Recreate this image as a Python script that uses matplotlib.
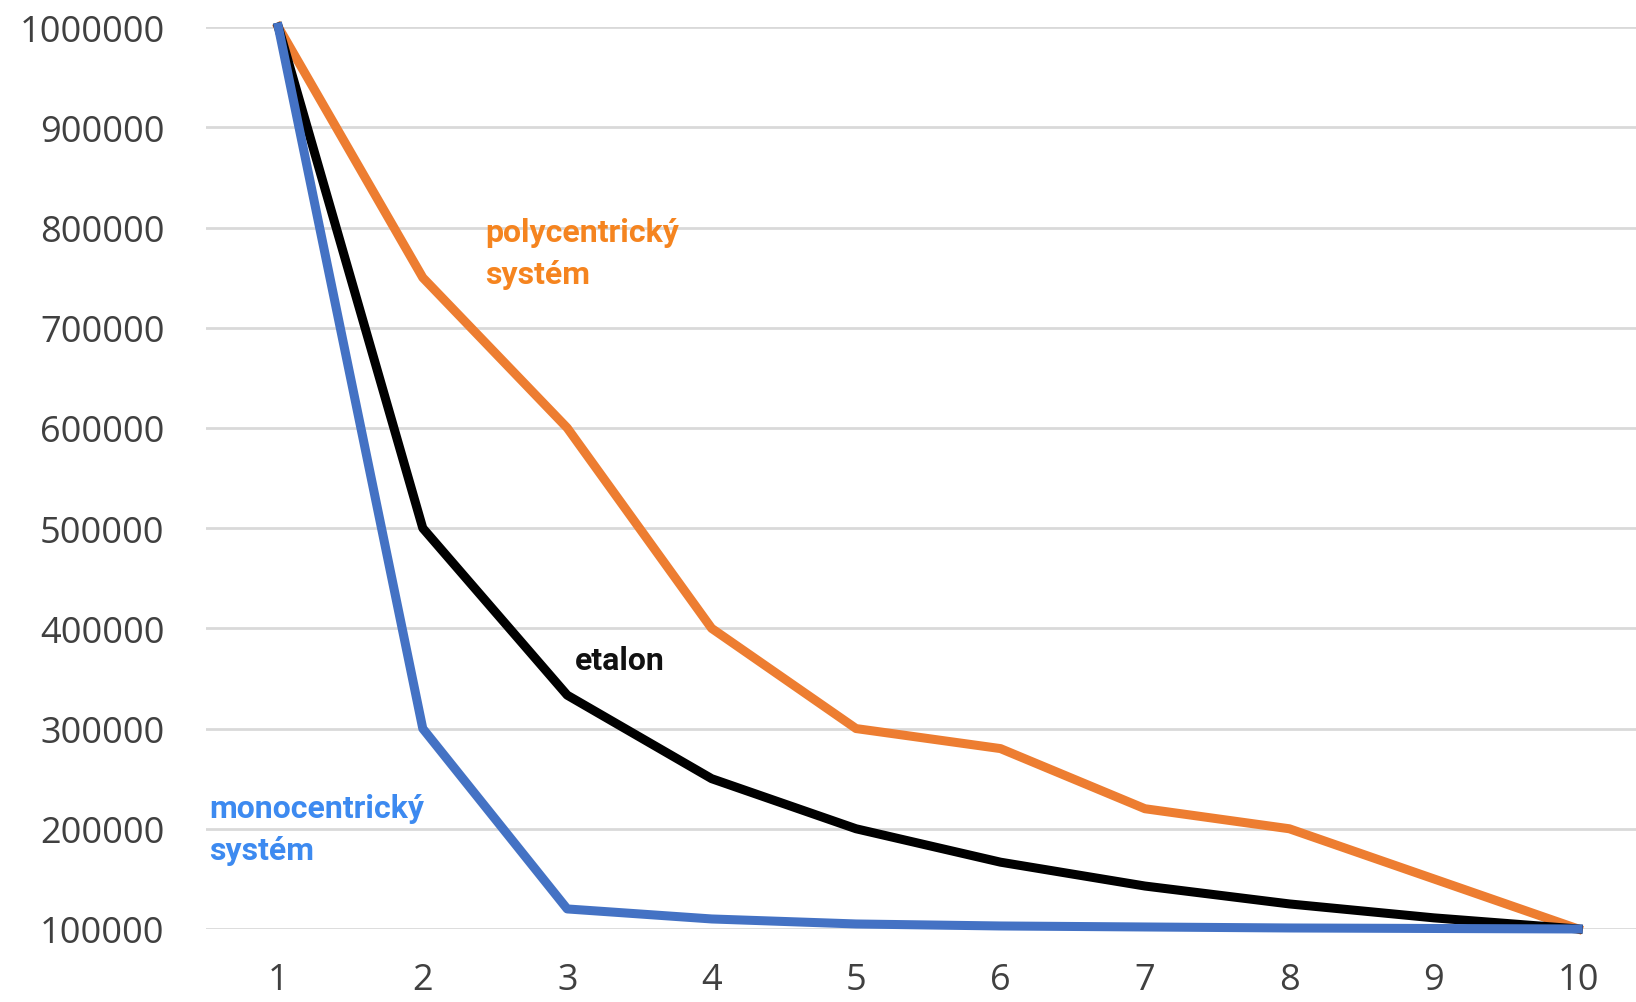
import numpy as np
import matplotlib.pyplot as plt
from matplotlib.ticker import StrMethodFormatter

# data
poradi = [1, 2, 3, 4, 5, 6, 7, 8, 9, 10]
polycentricky = [1000000, 750000, 600000, 400000, 300000, 280000, 220000, 200000, 150000, 100000]
etalon = [1000000 / n for n in poradi]
monocentricky = [1000000, 300000, 120000, 110000, 105000, 103000, 102000, 101000, 100500, 100000]

c_orange = '#ED7D31'
c_blue = '#4472C4'

fig = plt.figure(figsize=(16.36, 10.03), dpi=100)
ax = fig.add_axes([0.126, 0.0728, 0.874, 0.8992])

ax.plot(poradi, polycentricky, color=c_orange, lw=6.5, clip_on=False, zorder=3)
ax.plot(poradi, etalon, color='black', lw=6.5, clip_on=False, zorder=4)
ax.plot(poradi, monocentricky, color=c_blue, lw=6.5, clip_on=False, zorder=5)

ax.set_xlim(0.5, 10.4)
ax.set_ylim(100000, 1000000)
ax.set_xticks(poradi)
ax.set_yticks(np.arange(100000, 1000001, 100000))
ax.yaxis.set_major_formatter(StrMethodFormatter('{x:.0f}'))
ax.yaxis.grid(True, color='#d9d9d9', lw=2)
ax.set_axisbelow(True)
for s in ax.spines.values():
    s.set_visible(False)
ax.tick_params(length=0, labelsize=26, labelcolor='#404040')
ax.tick_params(axis='y', pad=30)
ax.tick_params(axis='x', pad=24)
for lab in ax.get_xticklabels() + ax.get_yticklabels():
    lab.set_fontfamily('Open Sans')

lab_font = dict(fontfamily='Roboto', fontweight='bold', fontsize=23, linespacing=1.5)
ax.text(2.43, 775000, 'polycentrický\nsystém', color='#F5841F', va='center', ha='left', **lab_font)
ax.text(3.05, 368000, 'etalon', color='#111111', va='center', ha='left', **lab_font)
ax.text(0.52, 200000, 'monocentrický\nsystém', color='#3D8AF0', va='center', ha='left', **lab_font)

fig.savefig('out.png', dpi=100)
